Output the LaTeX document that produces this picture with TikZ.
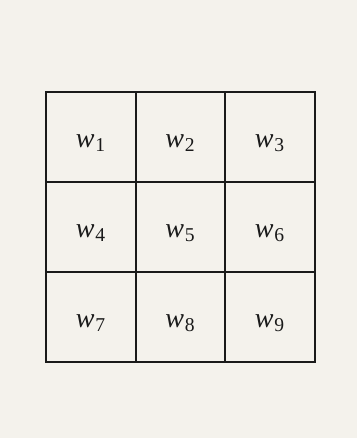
\documentclass[tikz,border=0pt]{standalone}
\usepackage{fontspec}
\setmainfont{Liberation Serif}
\definecolor{paper}{HTML}{F4F2EC}
\definecolor{ink}{HTML}{1A1A1A}
\begin{document}
\begin{tikzpicture}[x=1pt,y=-1pt,
  cell/.style={rectangle, minimum width=89.5pt, minimum height=90pt, inner sep=0pt},
  lab/.style={font=\fontsize{28}{31}\selectfont, text=ink, inner sep=0pt},
  grid/.style={draw=ink, line width=2.2pt, line cap=rect}]
\fill[paper] (0,0) rectangle (357,438);
\useasboundingbox (0,0) rectangle (357,438);
\foreach \r in {0,1,2}{
  \foreach \c in {0,1,2}{
    \pgfmathtruncatemacro{\k}{3*\r+\c+1}
    \node[cell] (c\k) at ({46+89.5*\c+44.75},{92+90*\r+45}) {};
    \node[lab] (w\k) at ([yshift=-6pt]c\k.center) {\textit{w}\kern1pt\textsubscript{\k}};
  }
}
\draw[grid] (c1.north west) rectangle (c9.south east);
\draw[grid] (c1.north east) -- (c7.south east);
\draw[grid] (c2.north east) -- (c8.south east);
\draw[grid] (c1.south west) -- (c3.south east);
\draw[grid] (c4.south west) -- (c6.south east);
\end{tikzpicture}
\end{document}
